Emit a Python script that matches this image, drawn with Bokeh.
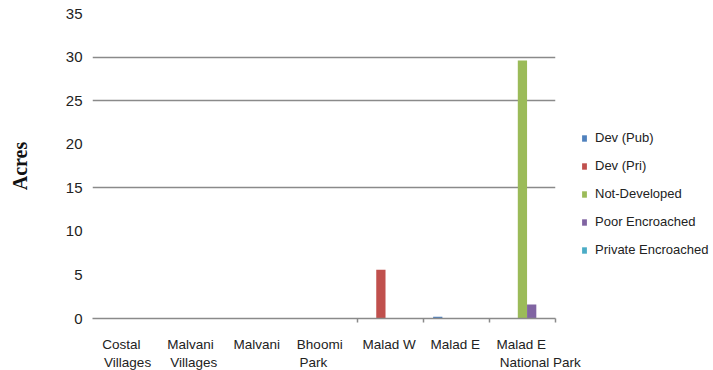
from bokeh.plotting import figure
from bokeh.models import (ColumnDataSource, Range1d, FixedTicker, Legend, LegendItem, LinearAxis)
from bokeh.transform import dodge
from bokeh.embed import file_html
from bokeh.resources import INLINE

categories = ["Costal Villages", "Malvani Villages", "Malvani", "Bhoomi Park",
              "Malad W", "Malad E", "Malad E National Park"]
label_line1 = ["Costal", "Malvani", "Malvani", "Bhoomi", "Malad W", "Malad E", "Malad E"]
label_line2 = ["Villages", "Villages", "", "Park", "", "", "National Park"]
series_names = ["Dev (Pub)", "Dev (Pri)", "Not-Developed", "Poor Encroached", "Private Encroached"]
dev_pub = [0, 0, 0, 0, 0, 0.2, 0]
dev_pri = [0, 0, 0, 0, 5.6, 0, 0]
not_developed = [0, 0, 0, 0, 0, 0, 29.6]
poor_encroached = [0, 0, 0, 0, 0, 0, 1.6]
private_encroached = [0, 0, 0, 0, 0, 0, 0]
y_ticks = [0, 5, 10, 15, 20, 25, 30, 35]
grid_ticks = [15, 25, 30]
colors = ["#4F81BD", "#C0504D", "#9BBB59", "#8064A2", "#4BACC6"]

n = len(categories)
FRAME_W = 463
src = ColumnDataSource(dict(
    x=[i + 0.5 for i in range(n)],
    s0=dev_pub, s1=dev_pri, s2=not_developed, s3=poor_encroached, s4=private_encroached,
))

p = figure(frame_width=FRAME_W, frame_height=305, output_backend="svg", toolbar_location=None,
           x_range=Range1d(0, n), y_range=Range1d(0, 35),
           x_axis_location=None,
           min_border_left=92, min_border_right=158, min_border_top=13, min_border_bottom=50)
p.outline_line_color = None
p.background_fill_color = "white"
p.border_fill_color = "white"

bw = 0.14
offsets = [-2 * bw, -bw, 0, bw, 2 * bw]
renderers = []
for k in range(5):
    r = p.vbar(x=dodge("x", offsets[k], range=p.x_range), top="s%d" % k, width=bw,
               bottom=0, source=src, fill_color=colors[k], line_color=None)
    renderers.append(r)

# grid
p.xgrid.visible = False
p.ygrid.ticker = FixedTicker(ticks=grid_ticks)
p.ygrid.grid_line_color = "#8a8a8a"
p.ygrid.grid_line_width = 1.7

# y axis
p.yaxis.ticker = FixedTicker(ticks=y_ticks)
p.yaxis.axis_line_color = None
p.yaxis.major_tick_line_color = None
p.yaxis.minor_tick_line_color = None
p.yaxis.major_label_text_font = "Liberation Sans"
p.yaxis.major_label_text_font_size = "15px"
p.yaxis.major_label_text_color = "#222222"
p.yaxis.major_label_standoff = 4
p.yaxis.axis_label = "Acres"
p.yaxis.axis_label_text_font = "Liberation Serif"
p.yaxis.axis_label_text_font_style = "bold"
p.yaxis.axis_label_text_font_size = "20px"
p.yaxis.axis_label_text_color = "#111111"
p.yaxis.axis_label_standoff = 32

# x axes: labels are left-aligned in each category slot, so each line is
# centred at (slot left + indent + half its approximate width)
char_w = 6.3 / (FRAME_W / n)   # approx. character width in data units
indent = 0.15


def line_centres(lines):
    return [i + indent + len(s) * char_w / 2 for i, s in enumerate(lines)]


pos1 = line_centres(label_line1)
pos2 = line_centres(label_line2)

ax1 = LinearAxis(ticker=FixedTicker(ticks=pos1, minor_ticks=[4, 5, 6, 7]),
                 major_label_overrides={pos: lab for pos, lab in zip(pos1, label_line1)})
ax1.major_label_text_font = "Liberation Sans"
ax1.major_label_text_font_size = "13.5px"
ax1.major_label_text_color = "#222222"
ax1.major_label_standoff = 14
ax1.major_tick_out = 0
ax1.major_tick_in = 0
ax1.minor_tick_out = 4
ax1.minor_tick_in = 0
ax1.major_tick_line_color = None
ax1.minor_tick_line_color = "#8a8a8a"
ax1.minor_tick_line_width = 1.5
ax1.axis_line_color = "#8a8a8a"
ax1.axis_line_width = 1.7
p.add_layout(ax1, "below")

ax2 = LinearAxis(ticker=FixedTicker(ticks=pos2, minor_ticks=[]),
                 major_label_overrides={pos: lab for pos, lab in zip(pos2, label_line2)})
ax2.major_label_text_font = "Liberation Sans"
ax2.major_label_text_font_size = "13.5px"
ax2.major_label_text_color = "#222222"
ax2.major_label_standoff = 0
ax2.major_tick_out = 0
ax2.major_tick_in = 0
ax2.minor_tick_out = 0
ax2.minor_tick_in = 0
ax2.major_tick_line_color = None
ax2.minor_tick_line_color = None
ax2.axis_line_color = None
p.add_layout(ax2, "below")

legend = Legend(items=[LegendItem(label=series_names[k], renderers=[renderers[k]]) for k in range(5)],
                location=(26, 61), padding=0, margin=0, spacing=13,
                glyph_width=6, glyph_height=8, label_height=15, label_standoff=8,
                label_text_font="Liberation Sans", label_text_font_size="13px",
                label_text_color="#222222", border_line_color=None,
                background_fill_alpha=0)
p.add_layout(legend, "right")

open("out.html", "w").write(file_html(p, INLINE))
